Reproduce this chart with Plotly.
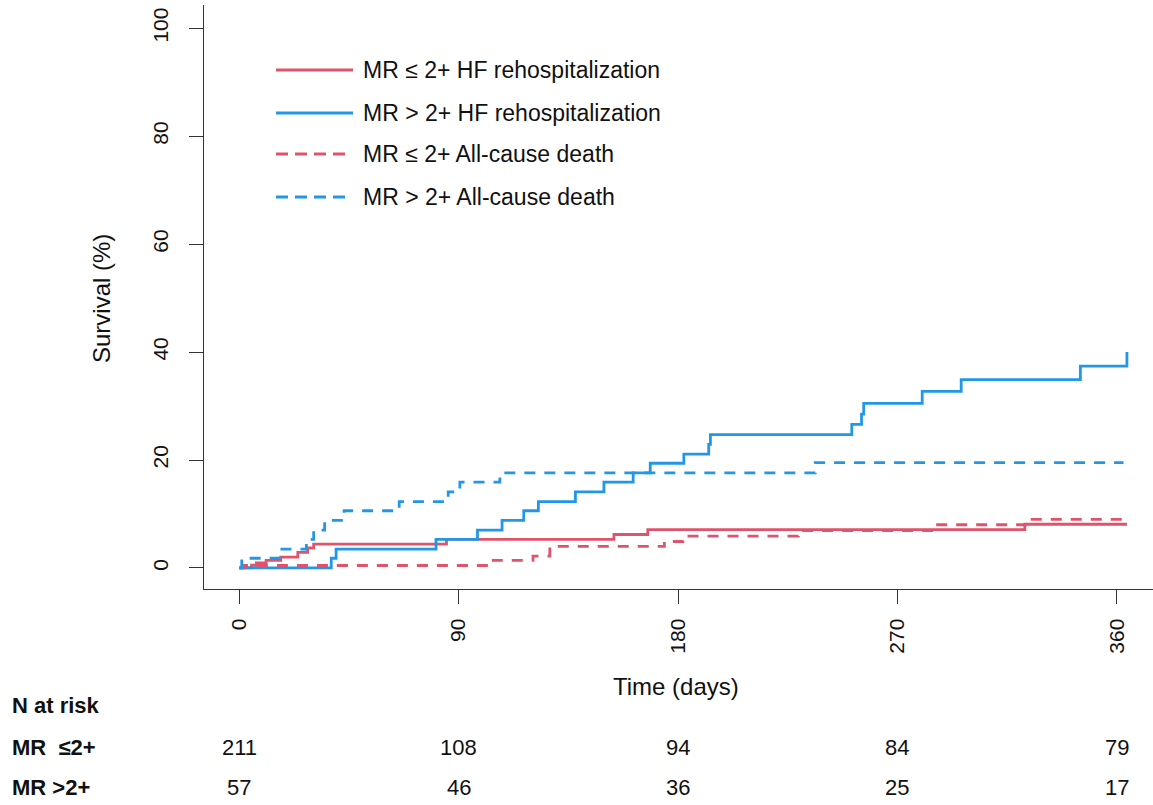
import plotly.graph_objects as go

# ---------------- data (cumulative incidence, %) ----------------
t_hf_le = [0, 5, 7, 11, 17, 24, 28, 30.5, 85, 153.7, 167.6, 322.3, 364.2]
y_hf_le = [0, 0.5, 0.95, 1.4, 2.0, 2.9, 3.7, 4.4, 5.3, 6.2, 7.1, 8.1, 8.1]

t_hf_gt = [0, 37.7, 39.7, 80.7, 97.7, 107.8, 116.7, 122.7, 137.9, 149.6, 161.6,
           168.6, 182.4, 192.6, 193.3, 251.3, 255.3, 256.2, 280.2, 296.2, 345.1, 364.2]
y_hf_gt = [0, 1.8, 3.5, 5.3, 7.0, 8.8, 10.6, 12.3, 14.1, 15.9, 17.6,
           19.4, 21.1, 22.9, 24.7, 26.6, 28.5, 30.5, 32.7, 34.9, 37.4, 40.0]

t_d_le = [0, 2, 103.5, 120.5, 127.4, 174.4, 182, 229.4, 285, 322.5, 363]
y_d_le = [0, 0.45, 1.4, 2.2, 4.0, 4.9, 5.9, 6.9, 8.0, 9.0, 9.0]

t_d_gt = [0, 1, 16.8, 27.5, 30.5, 35, 43, 65.6, 85.7, 90.5, 106.9, 236.3, 362.8]
y_d_gt = [0, 1.8, 3.5, 5.3, 7.0, 8.8, 10.6, 12.3, 14.1, 15.9, 17.6, 19.5, 19.5]

series_names = ["MR \u2264 2+ HF rehospitalization", "MR > 2+ HF rehospitalization",
                "MR \u2264 2+ All-cause death", "MR > 2+ All-cause death"]

x_ticks = [0, 90, 180, 270, 360]
y_ticks = [0, 20, 40, 60, 80, 100]

risk_times = [0, 90, 180, 270, 360]
risk_le = [211, 108, 94, 84, 79]
risk_gt = [57, 46, 36, 25, 17]
risk_labels = ["MR  \u22642+", "MR >2+"]

# ---------------- styling ----------------
RED = "#DF536B"
BLUE = "#2297E6"
FONT = "Liberation Sans, Arial, sans-serif"
DASH = "11px,9px"
LW = 2.8

W, H = 1153, 805
ML, MR_, MT, MB = 204, 0, 5, 216
PW = W - ML - MR_
PH = H - MT - MB


def px_x(px):
    return (px - ML) / PW


def px_y(py):
    return (H - MB - py) / PH


fig = go.Figure()
specs = [
    (t_hf_le, y_hf_le, RED, "solid"),
    (t_hf_gt, y_hf_gt, BLUE, "solid"),
    (t_d_le, y_d_le, RED, DASH),
    (t_d_gt, y_d_gt, BLUE, DASH),
]
for (tx, ty, col, dash), name in zip(specs, series_names):
    fig.add_trace(go.Scatter(
        x=tx, y=ty, mode="lines", name=name,
        line=dict(color=col, width=LW, dash=dash, shape="hv"),
        showlegend=False, hoverinfo="skip"))

# ---------------- manual legend ----------------
legend_rows = [70, 113, 154, 197]
legend_cols = [RED, BLUE, RED, BLUE]
legend_dash = ["solid", "solid", "dash", "dash"]
shapes = []
annotations = []
for row_y, col, ds, name in zip(legend_rows, legend_cols, legend_dash, series_names):
    x1 = 353 if ds == "solid" else 349
    shapes.append(dict(type="line", xref="paper", yref="paper",
                       x0=px_x(276), x1=px_x(x1), y0=px_y(row_y), y1=px_y(row_y),
                       line=dict(color=col, width=LW,
                                 dash="solid" if ds == "solid" else "12px,7px")))
    annotations.append(dict(xref="paper", yref="paper", x=px_x(361), y=px_y(row_y),
                            text=name, showarrow=False, xanchor="left", yanchor="middle",
                            font=dict(family=FONT, size=23, color="#111")))

# axis titles
annotations.append(dict(xref="paper", yref="paper", x=px_x(676), y=px_y(686),
                        text="Time (days)", showarrow=False, xanchor="center", yanchor="middle",
                        font=dict(family=FONT, size=24, color="#111")))
annotations.append(dict(xref="paper", yref="paper", x=px_x(101), y=px_y(299),
                        text="Survival (%)", showarrow=False, textangle=-90,
                        xanchor="center", yanchor="middle",
                        font=dict(family=FONT, size=24, color="#111")))

# risk table
annotations.append(dict(xref="paper", yref="paper", x=px_x(10), y=px_y(705),
                        text="<b>N at risk</b>", showarrow=False, xanchor="left", yanchor="middle",
                        font=dict(family=FONT, size=22, color="#111")))
for row_y, lab, vals in zip([747, 787], risk_labels, [risk_le, risk_gt]):
    annotations.append(dict(xref="paper", yref="paper", x=px_x(10), y=px_y(row_y),
                            text="<b>" + lab + "</b>", showarrow=False, xanchor="left",
                            yanchor="middle", font=dict(family=FONT, size=22, color="#111")))
    for tt, v in zip(risk_times, vals):
        annotations.append(dict(xref="x", yref="paper", x=tt, y=px_y(row_y),
                                text=str(v), showarrow=False, xanchor="center",
                                yanchor="middle",
                                font=dict(family=FONT, size=22, color="#111")))

fig.update_layout(
    width=W, height=H,
    margin=dict(l=ML, r=MR_, t=MT, b=MB, autoexpand=False),
    paper_bgcolor="white", plot_bgcolor="white",
    font=dict(family=FONT, size=20, color="#111"),
    shapes=shapes, annotations=annotations,
    showlegend=False,
    xaxis=dict(range=[-14.5, 374.9], tickvals=x_ticks, ticktext=[str(v) for v in x_ticks],
               tickangle=-90, ticks="outside", ticklen=14, tickwidth=1.2, tickcolor="#333",
               showline=True, linecolor="#333", linewidth=1.4, mirror=False,
               showgrid=False, zeroline=False, ticklabelstandoff=6,
               tickfont=dict(family=FONT, size=21, color="#111")),
    yaxis=dict(range=[-3.9, 104.3], tickvals=y_ticks, ticktext=[str(v) for v in y_ticks],
               tickangle=-90, ticks="outside", ticklen=14, tickwidth=1.2, tickcolor="#333",
               showline=True, linecolor="#333", linewidth=1.4, mirror=False,
               showgrid=False, zeroline=False, ticklabelstandoff=12,
               tickfont=dict(family=FONT, size=21, color="#111")),
)

fig.write_html("out.html")
